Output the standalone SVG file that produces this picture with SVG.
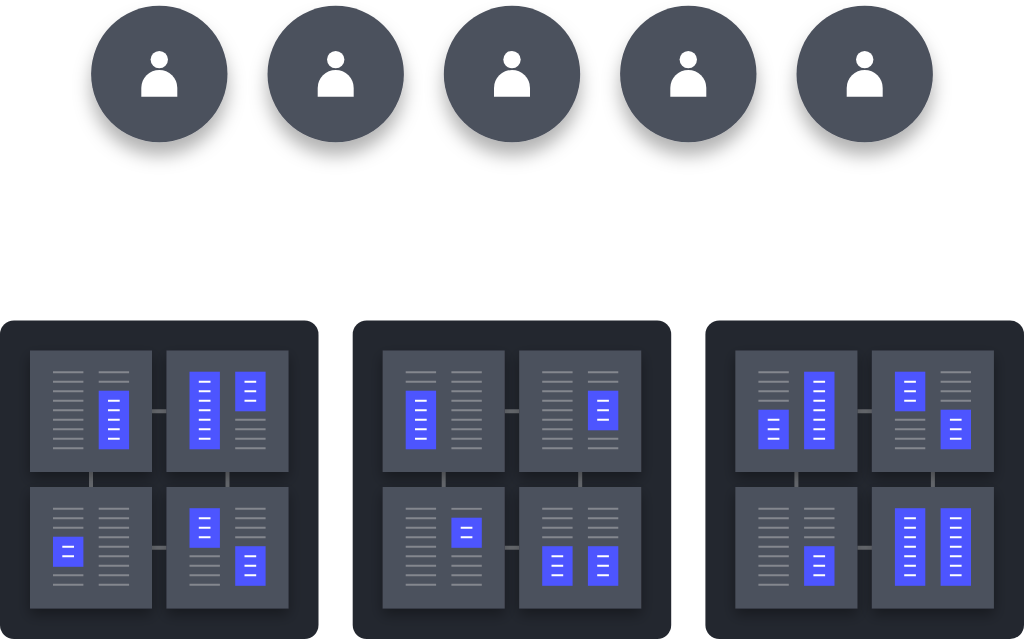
<svg xmlns="http://www.w3.org/2000/svg" width="1024" height="639" viewBox="0 0 1024 639">
<style>
.user{fill:#4c515d;filter:url(#cs)}
.person{fill:#fff}
.panel{fill:#23272f}
.card{fill:#4c515d;filter:url(#ps)}
.ln{fill:none;stroke:#84878e;stroke-width:1.9}
.wl{fill:none;stroke:#fff;stroke-width:1.9}
.bl{fill:#4d55ff}
.conn{fill:none;stroke:#6c6f74;stroke-width:4}
</style>
<defs>
<filter id="cs" x="-40%" y="-40%" width="180%" height="190%"><feDropShadow dx="0" dy="13" stdDeviation="9" flood-color="#000" flood-opacity=".3"/></filter>
<filter id="ps" x="-20%" y="-20%" width="140%" height="140%"><feDropShadow dx="0" dy="6" stdDeviation="7" flood-color="#000" flood-opacity=".35"/></filter>
<path id="g08" class="ln" d="M0 0h30.4m-30.4 9.5h30.4m-30.4 9.5h30.4m-30.4 9.5h30.4m-30.4 9.5h30.4m-30.4 9.5h30.4m-30.4 9.5h30.4m-30.4 9.5h30.4m-30.4 9.5h30.4"/>
<path id="g00" class="ln" d="M0 0h30.4"/>
<path id="g01" class="ln" d="M0 0h30.4m-30.4 9.5h30.4"/>
<path id="g02" class="ln" d="M0 0h30.4m-30.4 9.5h30.4m-30.4 9.5h30.4"/>
<path id="g03" class="ln" d="M0 0h30.4m-30.4 9.5h30.4m-30.4 9.5h30.4m-30.4 9.5h30.4"/>
<g id="b08"><rect class="bl" x="0" y="-.6" width="30.4" height="77.6"/><path class="wl" d="M9.3 9.5h11.7m-11.7 9.5h11.7m-11.7 9.5h11.7m-11.7 9.5h11.7m-11.7 9.5h11.7m-11.7 9.5h11.7m-11.7 9.5h11.7"/></g>
<g id="b06"><rect class="bl" x="0" y="-.6" width="30.4" height="58.6"/><path class="wl" d="M9.3 9.5h11.7m-11.7 9.5h11.7m-11.7 9.5h11.7m-11.7 9.5h11.7m-11.7 9.5h11.7"/></g>
<g id="b04"><rect class="bl" x="0" y="-.6" width="30.4" height="39.6"/><path class="wl" d="M9.3 9.5h11.7m-11.7 9.5h11.7m-11.7 9.5h11.7"/></g>
<g id="b03"><rect class="bl" x="0" y="-.6" width="30.4" height="30.1"/><path class="wl" d="M9.3 9.5h11.7m-11.7 9.5h11.7"/></g>
</defs>

<g id="user-1"><circle class="user" cx="159.3" cy="74" r="68.2"/><circle class="person" cx="159.3" cy="59.6" r="8.7"/><path class="person" d="M141.3 96.7V88a18 18 0 0 1 36 0v8.7z"/></g>
<g id="user-2"><circle class="user" cx="335.7" cy="74" r="68.2"/><circle class="person" cx="335.7" cy="59.6" r="8.7"/><path class="person" d="M317.7 96.7V88a18 18 0 0 1 36 0v8.7z"/></g>
<g id="user-3"><circle class="user" cx="512" cy="74" r="68.2"/><circle class="person" cx="512" cy="59.6" r="8.7"/><path class="person" d="M494 96.7V88a18 18 0 0 1 36 0v8.7z"/></g>
<g id="user-4"><circle class="user" cx="688.3" cy="74" r="68.2"/><circle class="person" cx="688.3" cy="59.6" r="8.7"/><path class="person" d="M670.3 96.7V88a18 18 0 0 1 36 0v8.7z"/></g>
<g id="user-5"><circle class="user" cx="864.7" cy="74" r="68.2"/><circle class="person" cx="864.7" cy="59.6" r="8.7"/><path class="person" d="M846.7 96.7V88a18 18 0 0 1 36 0v8.7z"/></g>

<g id="panel-1"><rect class="panel" x="0" y="320.5" width="318.5" height="318.5" rx="14"/></g>
<g id="panel-2"><rect class="panel" x="352.7" y="320.5" width="318.5" height="318.5" rx="14"/></g>
<g id="panel-3"><rect class="panel" x="705.4" y="320.5" width="318.6" height="318.5" rx="14"/></g>

<g id="connectors">
<path class="conn" d="M152 411.3h14.5M152 547.8h14.5M91 472v15M227.5 472v15"/>
<path class="conn" d="M504.7 411.3h14.5M504.7 547.8h14.5M443.7 472v15M580.2 472v15"/>
<path class="conn" d="M857.4 411.3h14.5M857.4 547.8h14.5M796.4 472v15M932.9 472v15"/>
</g>

<g id="card-1-1" transform="translate(30 350.5)"><rect class="card" width="122" height="121.5"/>
<use href="#g08" x="23" y="21.8"/><use href="#g01" x="68.7" y="21.8"/><use href="#b06" x="68.7" y="40.8"/></g>
<g id="card-1-2" transform="translate(166.5 350.5)"><rect class="card" width="122" height="121.5"/>
<use href="#b08" x="23" y="21.8"/><use href="#b04" x="68.7" y="21.8"/><use href="#g03" x="68.7" y="69.3"/></g>
<g id="card-1-3" transform="translate(30 487)"><rect class="card" width="122" height="121.5"/>
<use href="#g02" x="23" y="21.8"/><use href="#b03" x="23" y="50.3"/><use href="#g01" x="23" y="88.3"/><use href="#g08" x="68.7" y="21.8"/></g>
<g id="card-1-4" transform="translate(166.5 487)"><rect class="card" width="122" height="121.5"/>
<use href="#b04" x="23" y="21.8"/><use href="#g03" x="23" y="69.3"/><use href="#g03" x="68.7" y="21.8"/><use href="#b04" x="68.7" y="59.8"/></g>

<g id="card-2-1" transform="translate(382.7 350.5)"><rect class="card" width="122" height="121.5"/>
<use href="#g01" x="23" y="21.8"/><use href="#b06" x="23" y="40.8"/><use href="#g08" x="68.7" y="21.8"/></g>
<g id="card-2-2" transform="translate(519.2 350.5)"><rect class="card" width="122" height="121.5"/>
<use href="#g08" x="23" y="21.8"/><use href="#g01" x="68.7" y="21.8"/><use href="#b04" x="68.7" y="40.8"/><use href="#g01" x="68.7" y="88.3"/></g>
<g id="card-2-3" transform="translate(382.7 487)"><rect class="card" width="122" height="121.5"/>
<use href="#g08" x="23" y="21.8"/><use href="#g00" x="68.7" y="21.8"/><use href="#b03" x="68.7" y="31.3"/><use href="#g03" x="68.7" y="69.3"/></g>
<g id="card-2-4" transform="translate(519.2 487)"><rect class="card" width="122" height="121.5"/>
<use href="#g03" x="23" y="21.8"/><use href="#b04" x="23" y="59.8"/><use href="#g03" x="68.7" y="21.8"/><use href="#b04" x="68.7" y="59.8"/></g>

<g id="card-3-1" transform="translate(735.4 350.5)"><rect class="card" width="122" height="121.5"/>
<use href="#g03" x="23" y="21.8"/><use href="#b04" x="23" y="59.8"/><use href="#b08" x="68.7" y="21.8"/></g>
<g id="card-3-2" transform="translate(871.9 350.5)"><rect class="card" width="122" height="121.5"/>
<use href="#b04" x="23" y="21.8"/><use href="#g03" x="23" y="69.3"/><use href="#g03" x="68.7" y="21.8"/><use href="#b04" x="68.7" y="59.8"/></g>
<g id="card-3-3" transform="translate(735.4 487)"><rect class="card" width="122" height="121.5"/>
<use href="#g08" x="23" y="21.8"/><use href="#g03" x="68.7" y="21.8"/><use href="#b04" x="68.7" y="59.8"/></g>
<g id="card-3-4" transform="translate(871.9 487)"><rect class="card" width="122" height="121.5"/>
<use href="#b08" x="23" y="21.8"/><use href="#b08" x="68.7" y="21.8"/></g>
</svg>
